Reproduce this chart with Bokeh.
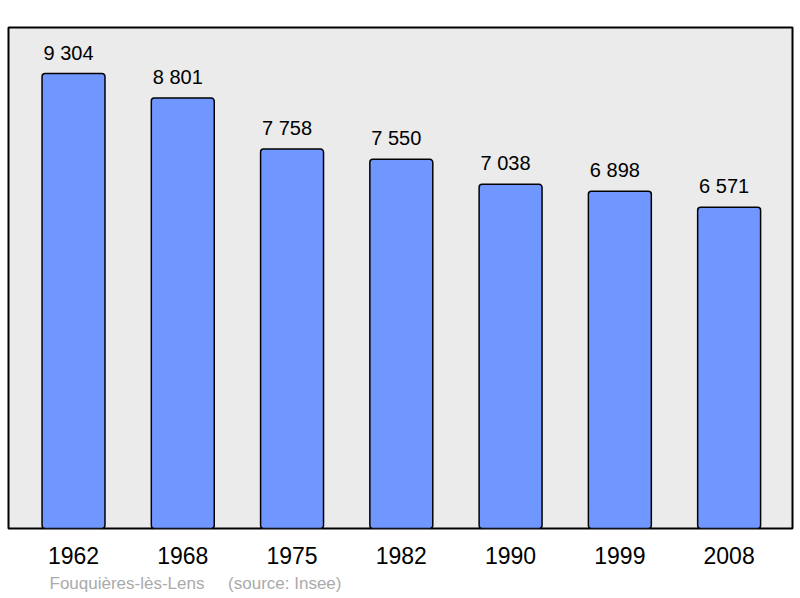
from bokeh.plotting import figure
from bokeh.models import Range1d, FixedTicker, Title, ColumnDataSource
from bokeh.core.properties import value
from bokeh.embed import file_html
from bokeh.resources import INLINE

years = ["1962", "1968", "1975", "1982", "1990", "1999", "2008"]
population = [9304, 8801, 7758, 7550, 7038, 6898, 6571]
place = "Fouquières-lès-Lens"
source_note = "(source: Insee)"

idx = list(range(len(years)))
labels = ["{:,}".format(v).replace(",", " ") for v in population]
src = ColumnDataSource(dict(x=idx, y=population, lab=labels))

FONT = "Liberation Sans"

p = figure(width=800, height=598, output_backend="svg", toolbar_location=None,
           x_range=Range1d(-0.595, 6.58), y_range=Range1d(0, 10245),
           min_border_top=27, min_border_left=8, min_border_right=8,
           min_border_bottom=70)
p.background_fill_color = "#ebebeb"
p.border_fill_color = "white"
p.outline_line_color = "black"
p.outline_line_width = 2
p.xgrid.visible = False
p.ygrid.visible = False
p.yaxis.visible = False

p.vbar(x="x", top="y", width=0.576, bottom=0, source=src,
       fill_color="#7096ff", line_color="black", line_width=1.5, border_radius=3)
p.text(x="x", y="y", text="lab", source=src, text_align="center", text_baseline="bottom",
       x_offset=-5, y_offset=-10, text_font=value(FONT), text_font_size="20px",
       text_color="black")

ax = p.xaxis[0]
ax.ticker = FixedTicker(ticks=idx)
ax.major_label_overrides = {i: y for i, y in zip(idx, years)}
ax.axis_line_color = None
ax.major_tick_line_color = None
ax.minor_tick_line_color = None
ax.major_tick_out = 0
ax.major_label_standoff = 18
ax.major_label_text_font = FONT
ax.major_label_text_font_size = "23px"
ax.major_label_text_color = "black"

t = Title(text=place + "\u00a0" * 5 + source_note, align="left", offset=41,
          text_font=FONT, text_font_size="17px", text_font_style="normal",
          text_color="#aaaaaa", standoff=10)
p.add_layout(t, "below")

open("out.html", "w").write(file_html(p, INLINE))
